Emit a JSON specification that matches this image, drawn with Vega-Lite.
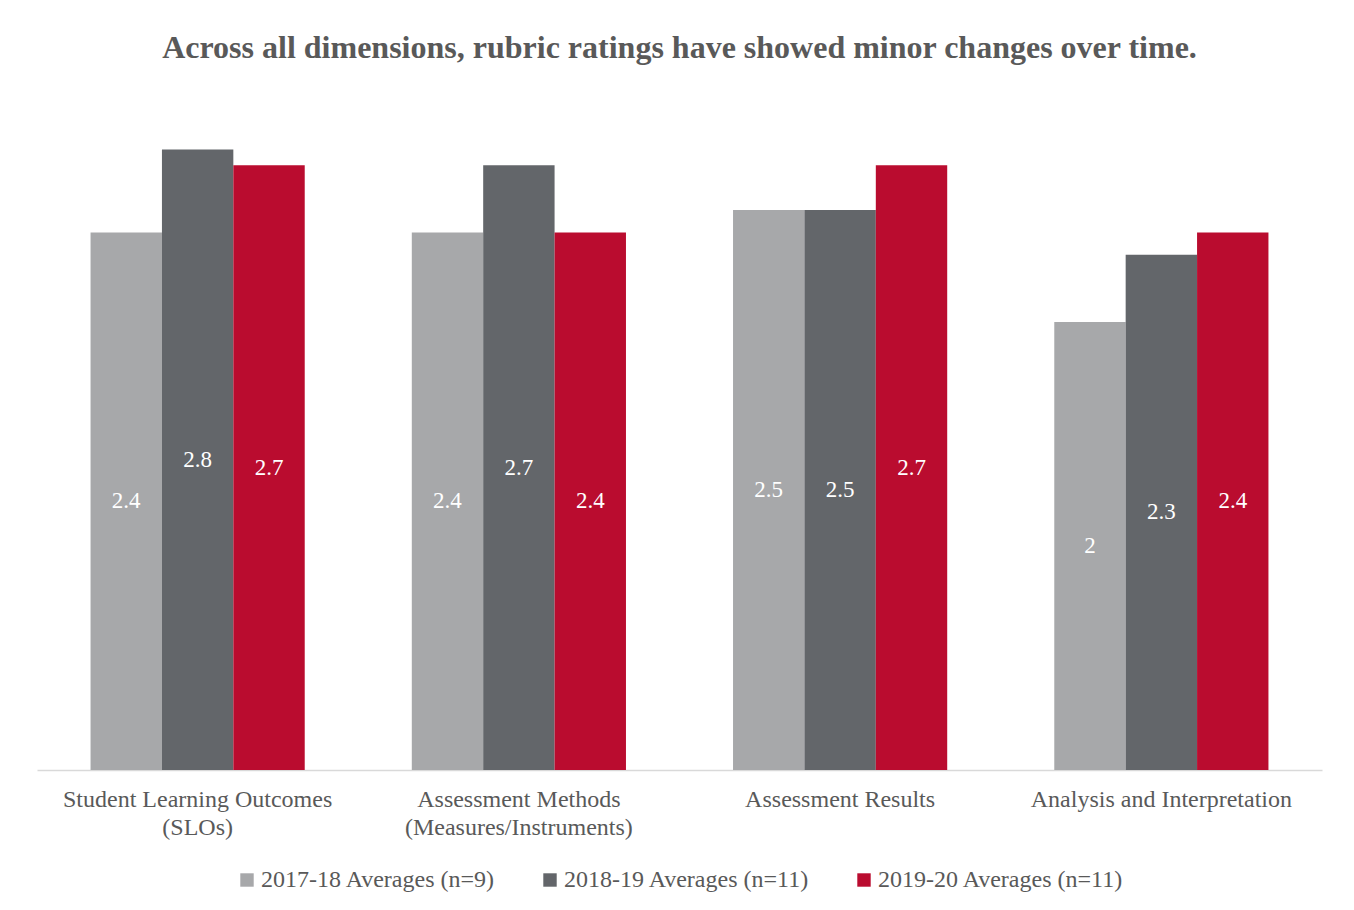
{
  "$schema": "https://vega.github.io/schema/vega-lite/v6.json",
  "width": 1285,
  "height": 672,
  "autosize": {"type": "none"},
  "padding": {"left": 37, "top": 98, "right": 32, "bottom": 140},
  "background": "white",
  "title": {
    "text": "Across all dimensions, rubric ratings have showed minor changes over time.",
    "font": "Liberation Serif",
    "fontSize": 32,
    "fontWeight": "bold",
    "color": "#595959",
    "anchor": "middle",
    "frame": "group",
    "offset": 33
  },
  "data": {
    "values": [
      {"dimension": "Student Learning Outcomes (SLOs)", "year": "2017-18 Averages (n=9)", "rating": 2.4},
      {"dimension": "Student Learning Outcomes (SLOs)", "year": "2018-19 Averages (n=11)", "rating": 2.77},
      {"dimension": "Student Learning Outcomes (SLOs)", "year": "2019-20 Averages (n=11)", "rating": 2.7},
      {"dimension": "Assessment Methods (Measures/Instruments)", "year": "2017-18 Averages (n=9)", "rating": 2.4},
      {"dimension": "Assessment Methods (Measures/Instruments)", "year": "2018-19 Averages (n=11)", "rating": 2.7},
      {"dimension": "Assessment Methods (Measures/Instruments)", "year": "2019-20 Averages (n=11)", "rating": 2.4},
      {"dimension": "Assessment Results", "year": "2017-18 Averages (n=9)", "rating": 2.5},
      {"dimension": "Assessment Results", "year": "2018-19 Averages (n=11)", "rating": 2.5},
      {"dimension": "Assessment Results", "year": "2019-20 Averages (n=11)", "rating": 2.7},
      {"dimension": "Analysis and Interpretation", "year": "2017-18 Averages (n=9)", "rating": 2.0},
      {"dimension": "Analysis and Interpretation", "year": "2018-19 Averages (n=11)", "rating": 2.3},
      {"dimension": "Analysis and Interpretation", "year": "2019-20 Averages (n=11)", "rating": 2.4}
    ]
  },
  "encoding": {
    "x": {
      "field": "dimension",
      "type": "nominal",
      "sort": null,
      "scale": {"paddingInner": 0.3333, "paddingOuter": 0.1667},
      "axis": {
        "title": null,
        "labelAngle": 0,
        "labelFont": "Liberation Serif",
        "labelFontSize": 24,
        "labelColor": "#595959",
        "labelLineHeight": 28,
        "labelPadding": 17,
        "labelExpr": "split(replace(datum.label, ' (', '|('), '|')",
        "ticks": false,
        "domainColor": "#d9d9d9",
        "domainWidth": 1.5,
        "grid": false,
        "labelLimit": 400
      }
    },
    "xOffset": {"field": "year", "type": "nominal", "sort": null, "scale": {"paddingInner": 0, "paddingOuter": 0}}
  },
  "layer": [
    {
      "mark": {"type": "bar"},
      "encoding": {
        "y": {
          "field": "rating",
          "type": "quantitative",
          "scale": {"domain": [0, 3], "nice": false},
          "axis": null
        },
        "color": {
          "field": "year",
          "type": "nominal",
          "sort": null,
          "scale": {"range": ["#A7A8AA", "#63666A", "#BA0C2F"]},
          "legend": {
            "title": null,
            "orient": "bottom",
            "direction": "horizontal",
            "symbolType": "square",
            "symbolSize": 180,
            "symbolStrokeWidth": 0,
            "labelFont": "Liberation Serif",
            "labelFontSize": 24,
            "labelColor": "#595959",
            "labelOffset": 2,
            "columnPadding": 42,
            "offset": 29,
            "labelLimit": 400
          }
        }
      }
    },
    {
      "mark": {"type": "text", "color": "white", "font": "Liberation Serif", "fontSize": 23, "baseline": "middle"},
      "encoding": {
        "y": {
          "field": "rating",
          "type": "quantitative",
          "scale": {"domain": [0, 6], "nice": false},
          "axis": null
        },
        "text": {"field": "rating", "type": "quantitative", "format": ".2~r"}
      }
    }
  ],
  "resolve": {"scale": {"y": "independent"}},
  "config": {
    "view": {"stroke": null},
    "font": "Liberation Serif",
    "text": {"font": "Liberation Serif"},
    "legend": {"layout": {"bottom": {"anchor": "middle"}}}
  }
}
